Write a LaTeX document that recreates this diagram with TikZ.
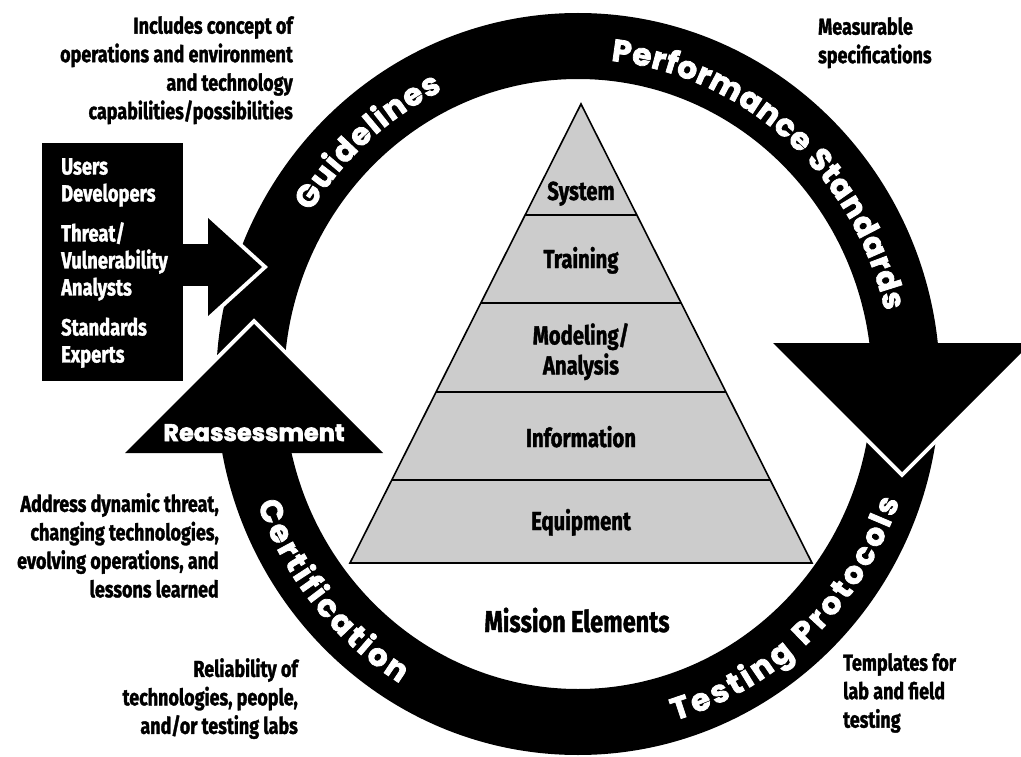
\documentclass[tikz,border=0pt]{standalone}
\usepackage{fontspec}
\usetikzlibrary{decorations.text}
\newfontfamily\condfont{Fira Sans}[FakeStretch=0.78, FakeBold=1.4]
\newfontfamily\ringfont{Poppins}[FakeBold=2.5]
\definecolor{pyrgray}{HTML}{CCCCCC}
\tikzset{
  side/.style={font=\condfont\bfseries\fontsize{23}{28.5}\selectfont, inner sep=0pt},
  boxtext/.style={font=\condfont\bfseries\fontsize{23.5}{27}\selectfont, inner sep=0pt, text=white},
  pyr/.style={font=\condfont\bfseries\fontsize{26}{30}\selectfont, inner sep=0pt},
  mission/.style={font=\condfont\bfseries\fontsize{30}{34}\selectfont, inner sep=0pt},
  reass/.style={font=\ringfont\bfseries\fontsize{24}{24}\selectfont, inner sep=0pt, text=white},
  headedge/.style={draw=white, line width=8pt, line join=miter},
  ringtext/.style={decorate, decoration={text along path, text align=fit to path, text color=white,
      text={|\ringfont\bfseries\fontsize{31}{31}\selectfont|#1}}}
}
\begin{document}
\begin{tikzpicture}[x=1pt,y=-1pt]
\useasboundingbox (0,0) rectangle (1021,757);
\coordinate (C) at (578,384);
% ring
\fill[black, even odd rule] (C) ellipse[x radius=362, y radius=371] (C) ellipse[x radius=294, y radius=305];
% ring labels
\path[ringtext={Guidelines}] (C) ++(-148:315 and 325) arc[start angle=-148, end angle=-115.5, x radius=315, y radius=325];
\path[ringtext={Performance Standards}] (C) ++(-84:315 and 325) arc[start angle=-84, end angle=-13, x radius=315, y radius=325];
\path[ringtext={Testing Protocols}] (C) ++(73.5:341 and 351) arc[start angle=73.5, end angle=19.5, x radius=341, y radius=351];
\path[ringtext={Certification}] (C) ++(-200:341 and 351) arc[start angle=-200, end angle=-238.5, x radius=341, y radius=351];
% down arrow head (right)
\coordinate (dhL) at (773,343);
\coordinate (dhR) at (1031,343);
\coordinate (dhT) at (902,472);
\draw[headedge] (dhL) -- (dhT) -- (dhR);
\fill[black] (dhL) -- (dhT) -- (dhR) -- cycle;
% input box and arrow
\node[fill=black, minimum width=141pt, minimum height=238pt, inner sep=0pt, anchor=north west] (box) at (42,143) {};
\fill[black] (box.east |- 0,244) rectangle (210,286);
\coordinate (ihT) at (208,218);
\coordinate (ihB) at (208,316);
\coordinate (ihP) at (262,267);
\draw[headedge] (ihT) -- (ihP) -- (ihB);
\fill[black] (ihT) -- (ihP) -- (ihB) -- cycle;
% reassessment head
\coordinate (rhL) at (125,453);
\coordinate (rhR) at (383,453);
\coordinate (rhT) at (254,324);
\draw[headedge] (rhL) -- (rhT) -- (rhR);
\fill[black] (rhL) -- (rhT) -- (rhR) -- cycle;
\node[reass, anchor=base] (rea) at (254,441) {Reassessment};
% pyramid
\fill[pyrgray] (581,104) -- (812,563) -- (350,563) -- cycle;
\draw[line width=1.6pt] (525.1,215) -- (636.9,215);
\draw[line width=1.6pt] (480.8,303) -- (681.2,303);
\draw[line width=1.6pt] (436.1,392) -- (725.9,392);
\draw[line width=1.6pt] (391.8,480) -- (770.2,480);
\draw[line width=1.6pt, line join=miter] (581,104) -- (812,563) -- (350,563) -- cycle;
\node[pyr, anchor=base] (sys) at (581,200) {System};
\node[pyr, anchor=base] (trn) at (581,268) {Training};
\node[pyr, anchor=north, align=center] (mod) at (581,323) {Modeling/\\Analysis};
\node[pyr, anchor=base] (inf) at (581,447) {Information};
\node[pyr, anchor=base] (eqp) at (581,530) {Equipment};
\node[mission, anchor=base] (me) at (577,632) {Mission Elements};
% side texts
\node[side, align=right, anchor=north east] (inc) at (293,16) {Includes concept of\\operations and environment\\and technology\\capabilities/possibilities};
\node[side, align=left, anchor=north west] (meas) at (818,17) {Measurable\\specifications};
\node[boxtext, align=left, anchor=north west] (users) at (61,158) {Users\\Developers\\[13pt]Threat/\\Vulnerability\\Analysts\\[13pt]Standards\\Experts};
\node[side, align=right, anchor=north east] (addr) at (219,493) {Address dynamic threat,\\changing technologies,\\evolving operations, and\\lessons learned};
\node[side, align=right, anchor=north east] (rel) at (298,658) {Reliability of\\technologies, people,\\and/or testing labs};
\node[side, align=left, anchor=north west] (tmpl) at (843,653) {Templates for\\lab and field\\testing};
\end{tikzpicture}
\end{document}
